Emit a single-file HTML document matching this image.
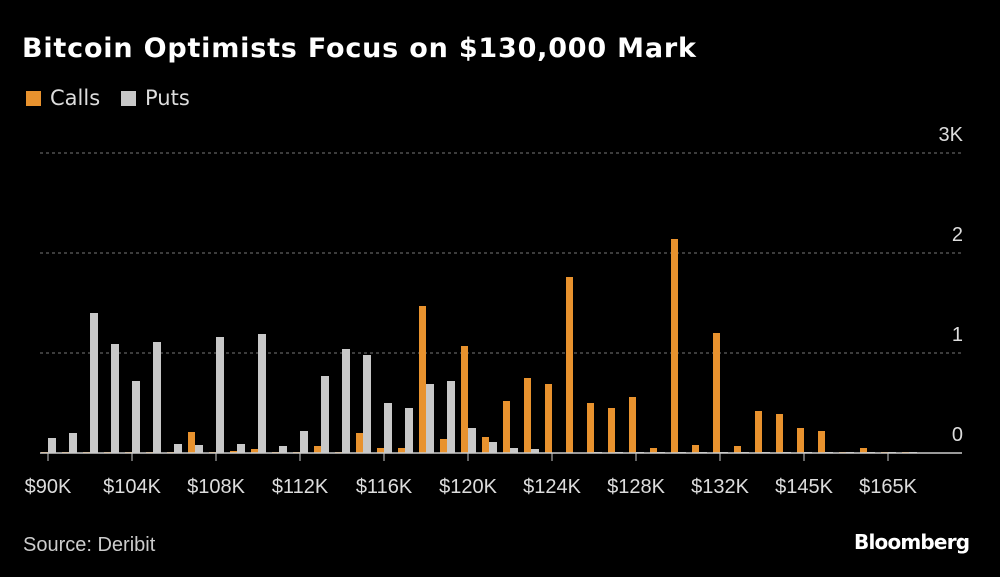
<!DOCTYPE html>
<html><head><meta charset="utf-8"><style>
body{margin:0;background:#000;width:1000px;height:577px;overflow:hidden;font-family:"Liberation Sans",sans-serif;color:#fff}
.t{position:absolute;white-space:nowrap}
</style></head><body>
<div class="t" style="left:22px;top:33px;font-size:27px;letter-spacing:0.8px;font-weight:bold;font-family:'DejaVu Sans',sans-serif">Bitcoin Optimists Focus on $130,000 Mark</div>
<div class="t" style="left:26px;top:86px;font-size:21px;color:#ddd;font-family:'DejaVu Sans',sans-serif"><span style="display:inline-block;width:15px;height:15px;background:#e8922e;margin-right:9px;vertical-align:-1px"></span>Calls</div>
<div class="t" style="left:121px;top:86px;font-size:21px;color:#ddd;font-family:'DejaVu Sans',sans-serif"><span style="display:inline-block;width:15px;height:15px;background:#c8c8c8;margin-right:9px;vertical-align:-1px"></span>Puts</div>
<svg id="c" width="1000" height="577" style="position:absolute;left:0;top:0"></svg>
<div class="t" style="left:23px;top:534px;font-size:20px;color:#ccc">Source: Deribit</div>
<div class="t" style="left:854px;top:530px;font-size:20px;font-weight:bold;letter-spacing:-0.8px;font-family:'DejaVu Sans',sans-serif">Bloomberg</div>
<script>
const calls=[0.01,0.01,0.01,0.01,0.01,0.01,0.01,0.21,0.01,0.02,0.04,0.01,0.01,0.07,0.01,0.20,0.05,0.05,1.47,0.14,1.07,0.16,0.52,0.75,0.69,1.76,0.50,0.45,0.56,0.05,2.14,0.08,1.20,0.07,0.42,0.39,0.25,0.22,0.01,0.05,0.01,0.01];
const puts=[0.15,0.20,1.40,1.09,0.72,1.11,0.09,0.08,1.16,0.09,1.19,0.07,0.22,0.77,1.04,0.98,0.50,0.45,0.69,0.72,0.25,0.11,0.05,0.04,0.005,0.005,0.01,0.01,0.01,0.01,0.01,0.01,0.01,0.01,0.01,0.01,0.01,0.01,0.01,0.01,0.01,0.01];
const xLabels=["$90K","$104K","$108K","$112K","$116K","$120K","$124K","$128K","$132K","$145K","$165K"];
const yTicks=[0,1,2,3];
const yTickLabels=["0","1","2","3K"];
const svg=document.getElementById('c'),NS="http://www.w3.org/2000/svg";
const base=453,unit=100,x0=48,step=21;
const y=v=>base-v*unit, xg=i=>x0+i*step;
function mk(t,a){const e=document.createElementNS(NS,t);for(const k in a)e.setAttribute(k,a[k]);svg.appendChild(e);return e;}
yTicks.forEach((v,i)=>{
 if(v>0){const l=mk('line',{x1:40,x2:962,y1:y(v),y2:y(v),stroke:'#777','stroke-dasharray':'3,3'});
 
 }
 const t=mk('text',{x:963,y:y(v)-12,'text-anchor':'end',fill:'#ddd','font-size':20,'font-family':'Liberation Sans'});t.textContent=yTickLabels[i];
 
 
});
calls.forEach((v,i)=>{const r=mk('rect',{x:xg(i)-7,y:y(v),width:7,height:v*unit,fill:'#e8922e'});
 
 });
puts.forEach((v,i)=>{const r=mk('rect',{x:xg(i),y:y(v),width:8,height:v*unit,fill:'#c8c8c8'});
 
 });
const ax=mk('line',{x1:40,x2:962,y1:base,y2:base,stroke:'#ccc','stroke-width':1.5});


xLabels.forEach((s,i)=>{const x=xg(i*4);
 const tk=mk('line',{x1:x,x2:x,y1:base,y2:base+8,stroke:'#ccc'});
 
 
 const t=mk('text',{x:x,y:493,'text-anchor':'middle',fill:'#ddd','font-size':20,'font-family':'Liberation Sans'});t.textContent=s;
 
 });
</script>
</body></html>
